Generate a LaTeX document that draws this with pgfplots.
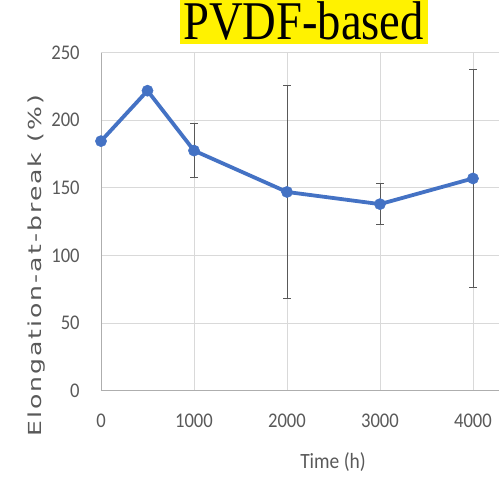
\documentclass[border=0pt]{standalone}
\usepackage{pgfplots}
\pgfplotsset{compat=1.18}
\usepackage{fontspec}
\setmainfont{Carlito}
\newfontfamily\labelfont[LetterSpace=8]{DejaVu Sans}
\newfontfamily\titlefont{Liberation Serif}
\definecolor{lineblue}{HTML}{4472C4}
\definecolor{txtgray}{HTML}{595959}
\definecolor{gridgray}{HTML}{D9D9D9}
\definecolor{errgray}{HTML}{595959}
\begin{document}
\begin{tikzpicture}
\begin{axis}[name=ax,
    scale only axis, width=398bp, height=338bp,
    xmin=0, xmax=4280, ymin=0, ymax=250,
    xtick={0,1000,2000,3000,4000},
    ytick={0,50,100,150,200,250},
    axis x line=bottom, axis y line=left,
    axis line style={draw=gridgray!80!black, line width=0.9bp, -},
    tick style={draw=none},
    xmajorgrids, ymajorgrids,
    grid style={draw=gridgray, line width=0.9bp},
    clip=false,
    scaled x ticks=false,
    /pgf/number format/assume math mode=true,
    xticklabel={\scalebox{1}[1.12]{\pgfmathprintnumber[1000 sep={}]{\tick}}},
    yticklabel={\scalebox{1}[1.12]{\pgfmathprintnumber{\tick}}},
    ticklabel style={font=\fontsize{18.7}{20}\selectfont, text=txtgray, inner sep=0pt},
    xticklabel style={anchor=center, yshift=-27.8bp},
    yticklabel style={anchor=east, xshift=-19bp},
    xlabel={\scalebox{1}[1.12]{Time (h)}},
    xlabel style={font=\fontsize{19.5}{21}\selectfont, text=txtgray, at={(axis description cs:0.583,-0.21)}, anchor=center},
    ylabel={\scalebox{1.4}[1]{\labelfont Elongation-at-break (\%)}},
    ylabel style={font=\fontsize{18}{20}\selectfont, text=txtgray, at={(axis description cs:-0.163,0.369)}, anchor=center},
    every axis title shift=0pt,
    title={\scalebox{1}[1.17]{\titlefont\fontsize{46.8}{50}\selectfont PVDF-based}},
    title style={at={(axis description cs:0.509,1)}, anchor=base, yshift=13.7bp, fill=yellow, inner xsep=3.5bp, inner ysep=5bp, text depth=0pt},
]
\addplot[color=lineblue, line width=3.8bp, mark=*, mark size=5.6bp,
    mark options={fill=lineblue, draw=lineblue, line width=0.5bp},
    error bars/.cd, y dir=both, y explicit,
    error bar style={color=errgray, line width=0.9bp},
    error mark options={rotate=90, mark size=3.6bp, line width=0.9bp, color=errgray}]
    coordinates {
    (0,184.6) +- (0,0)
    (500,221.9) +- (0,0)
    (1000,177.6) +- (0,19.8)
    (2000,147.0) +- (0,78.6)
    (3000,138.0) +- (0,15.0)
    (4000,157.0) +- (0,80.6)
    };
\end{axis}
\pgfresetboundingbox
\path[use as bounding box] (ax.south west) ++(-101bp,-91.3bp) rectangle ++(499bp,482bp);
\end{tikzpicture}
\end{document}
